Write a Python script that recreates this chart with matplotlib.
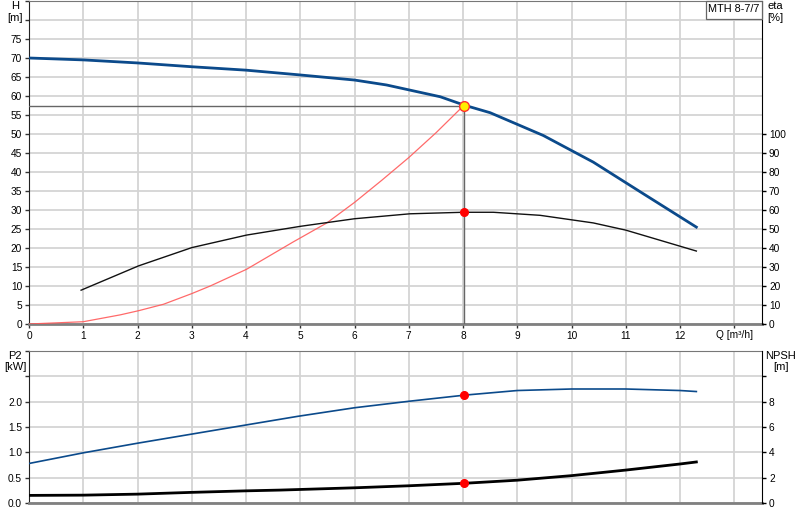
import matplotlib
matplotlib.use("Agg")
import matplotlib.pyplot as plt
from matplotlib.patches import Rectangle

# ---------------- data ----------------
q_h = [0, 1, 2, 3, 4, 4.95, 6.0, 6.59, 7.58, 8.02, 8.5, 9.48, 10.4, 11.32, 12.3]
h_vals = [70.0, 69.5, 68.7, 67.7, 66.8, 65.6, 64.2, 62.9, 59.8, 57.6, 55.6, 49.6, 42.6, 34.3, 25.5]

q_eta = [0.96, 2.02, 3.0, 4.01, 5.0, 6.0, 7.02, 8.0, 8.56, 9.42, 10.4, 11.0, 11.45, 12.3]
eta_vals = [17.8, 30.6, 40.2, 46.8, 51.4, 55.4, 58.0, 58.8, 58.8, 57.2, 53.2, 49.4, 45.6, 38.4]

q_sys = [0, 1.0, 1.68, 2.02, 2.48, 3.0, 3.34, 4.01, 4.87, 5.49, 6.0, 6.5, 7.0, 7.5, 8.02]
h_sys = [0, 0.6, 2.4, 3.5, 5.2, 8.0, 10.0, 14.4, 21.6, 26.6, 32.0, 37.8, 43.8, 50.3, 57.6]

q_p2 = [0, 1, 2, 3, 4, 4.95, 6.0, 7.02, 8.04, 9.0, 10.0, 11.0, 12.0, 12.3]
p2_vals = [0.78, 0.99, 1.18, 1.36, 1.54, 1.71, 1.88, 2.01, 2.13, 2.22, 2.25, 2.25, 2.22, 2.20]

q_npsh = [0, 1, 2, 3, 4, 4.63, 6.0, 7.0, 8.04, 9.0, 10.0, 11.0, 12.0, 12.3]
npsh_vals = [0.60, 0.62, 0.70, 0.84, 0.96, 1.02, 1.20, 1.36, 1.56, 1.80, 2.16, 2.60, 3.08, 3.24]

duty_q = 8.02
duty_h = 57.5
duty_eta = 58.8
duty_p2 = 2.13
duty_npsh = 1.56

x_ticks = list(range(0, 13))
h_ticks = list(range(0, 80, 5))
eta_ticks = list(range(0, 110, 10))
p2_ticks = [0.0, 0.5, 1.0, 1.5, 2.0]
npsh_ticks = [0, 2, 4, 6, 8]

# ---------------- style ----------------
plt.rcParams['font.family'] = ['Liberation Sans', 'DejaVu Sans']
FS = 7.3
GRID = '#d4d4d4'
BLUE = '#0b4a8b'

fig = plt.figure(figsize=(8, 5.2), dpi=100)
W, Hh = 800, 520

def rect(l, t, r, b):
    return [l / W, 1 - b / Hh, (r - l) / W, (b - t) / Hh]

ax1 = fig.add_axes(rect(29, 1, 762, 324))
ax2 = fig.add_axes(rect(29, 351, 762, 503))

for ax in (ax1, ax2):
    ax.set_xlim(0, 13.51)
    ax.set_xticks(list(range(0, 14)))
    ax.grid(True, color=GRID, linewidth=1.3, zorder=0)
    ax.set_axisbelow(True)
    ax.tick_params(axis='both', labelsize=FS, length=3, width=1, pad=2, color='#333333')
    ax.spines['left'].set_color('#222222')
    ax.spines['right'].set_visible(False)
    ax.spines['top'].set_color('#777777')
    ax.spines['bottom'].set_color('#808080')
    ax.spines['bottom'].set_linewidth(2)

# ---- top axes ----
ax1.set_ylim(0, 85)
ax1.set_yticks(list(range(0, 90, 5)))
ax1.set_yticklabels([str(v) if v in h_ticks else '' for v in range(0, 90, 5)])
ax1.set_xticklabels([str(v) for v in x_ticks] + [''])
ax1.plot(q_sys, h_sys, color='#ff5a5a', linewidth=0.9, alpha=0.9, zorder=3)
ax1.plot(q_h, h_vals, color=BLUE, linewidth=2.0, zorder=4)
ax1.plot([0, duty_q], [duty_h, duty_h], color='#666666', linewidth=1.0, zorder=3)
ax1.plot([duty_q, duty_q], [0, duty_h], color='#666666', linewidth=1.0, zorder=3)
ax1.plot([duty_q], [duty_h], marker='o', markersize=7, markerfacecolor='#ffee00',
         markeredgecolor='#ff3030', markeredgewidth=1.0, zorder=6)
ax1.text(13.0, -1.6, 'Q [m³/h]', ha='center', va='top', fontsize=FS)

ax1r = ax1.twinx()
ax1r.set_ylim(0, 170)
ax1r.set_yticks(eta_ticks)
ax1r.tick_params(axis='y', labelsize=FS, length=3, width=1, pad=2)
for s in ('left', 'top', 'bottom'):
    ax1r.spines[s].set_visible(False)
ax1r.spines['right'].set_color('#000000')
ax1r.plot(q_eta, eta_vals, color='#111111', linewidth=1.0, zorder=4)
ax1r.plot([duty_q], [duty_eta], marker='o', markersize=5.5, color='#ff0000', zorder=6)

fig.text(15 / W, 1 - 6 / Hh, 'H', ha='center', va='center', fontsize=FS + 0.7)
fig.text(15 / W, 1 - 18 / Hh, '[m]', ha='center', va='center', fontsize=FS + 0.7)
fig.text(775 / W, 1 - 6 / Hh, 'eta', ha='center', va='center', fontsize=FS + 0.7)
fig.text(775 / W, 1 - 18 / Hh, '[%]', ha='center', va='center', fontsize=FS + 0.7)

# legend box
fig.patches.append(Rectangle((706 / W, 1 - 19 / Hh), 56 / W, 18.5 / Hh, transform=fig.transFigure,
                             facecolor='white', edgecolor='#666666', linewidth=0.9, zorder=10))
fig.text(734 / W, 1 - 9 / Hh, 'MTH 8-7/7', ha='center', va='center', fontsize=FS + 0.5, zorder=11)

# ---- bottom axes ----
ax2.set_ylim(0, 3.0)
yt = [0.0, 0.5, 1.0, 1.5, 2.0, 2.5, 3.0]
ax2.set_yticks(yt)
ax2.set_yticklabels([f'{v:.1f}' if v in p2_ticks else '' for v in yt])
ax2.set_xticklabels([])
ax2.tick_params(axis='x', length=0)
ax2.plot(q_p2, p2_vals, color=BLUE, linewidth=1.2, zorder=4)
ax2.plot([duty_q], [duty_p2], marker='o', markersize=5.5, color='#ff0000', zorder=6)

ax2r = ax2.twinx()
ax2r.set_ylim(0, 12)
ax2r.set_yticks([0, 2, 4, 6, 8, 10])
ax2r.set_yticklabels([str(v) if v in npsh_ticks else '' for v in [0, 2, 4, 6, 8, 10]])
ax2r.tick_params(axis='y', labelsize=FS, length=3, width=1, pad=2)
for s in ('left', 'top', 'bottom'):
    ax2r.spines[s].set_visible(False)
ax2r.spines['right'].set_color('#000000')
ax2r.plot(q_npsh, npsh_vals, color='#000000', linewidth=2.0, zorder=4)
ax2r.plot([duty_q], [duty_npsh], marker='o', markersize=5.5, color='#ff0000', zorder=6)

fig.text(15 / W, 1 - 356 / Hh, 'P2', ha='center', va='center', fontsize=FS + 0.7)
fig.text(15 / W, 1 - 367 / Hh, '[kW]', ha='center', va='center', fontsize=FS + 0.7)
fig.text(781 / W, 1 - 356 / Hh, 'NPSH', ha='center', va='center', fontsize=FS + 0.7)
fig.text(781 / W, 1 - 367 / Hh, '[m]', ha='center', va='center', fontsize=FS + 0.7)

fig.savefig('out.png', dpi=100)
